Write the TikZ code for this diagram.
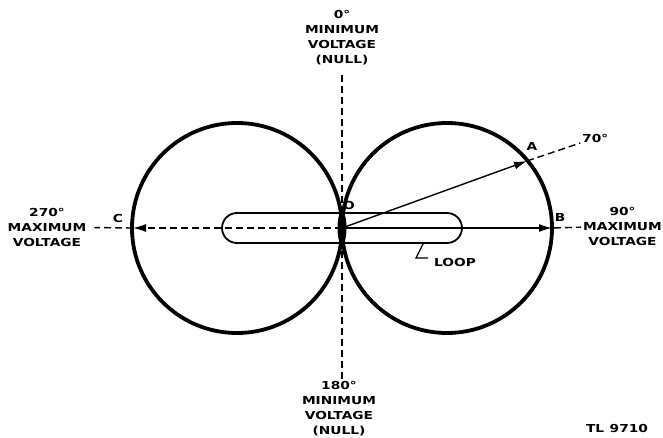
\documentclass[tikz,border=0pt]{standalone}
\usepackage{fontspec}
\newfontfamily\leroy{DejaVu Sans}[FakeStretch=1.25]
\usetikzlibrary{arrows.meta}

\begin{document}
\begin{tikzpicture}[x=1pt,y=-1pt,
    txt/.style={align=center,inner sep=0pt,
      font=\leroy\bfseries\fontsize{11}{15}\selectfont},
    lobe/.style={line width=3.8pt},
    axis/.style={line width=1.4pt,dash pattern=on 7pt off 4pt},
    tip/.style={-{Latex[length=13pt,width=8pt]}},
    vec/.style={line width=1.4pt,tip}]

    \useasboundingbox (0,0) rectangle (663,438);

    % points of the pattern
    \coordinate (o) at (342,228);
    \coordinate (b) at (552,228);
    \coordinate (c) at (133,228);
    \coordinate (a) at (527,161);

    % the two lobes
    \draw[lobe] (447,228) circle[radius=105pt];
    \draw[lobe] (237,228) circle[radius=105pt];
    \fill (o) ellipse[x radius=4.5pt,y radius=17pt];

    % loop
    \draw[line width=1.8pt,rounded corners=15pt] (222,213) rectangle (462,243);

    % labels
    \node[txt] (top) at (342,38) {0°\\MINIMUM\\VOLTAGE\\(NULL)};
    \node[txt] (bot) at (339,409) {180°\\MINIMUM\\VOLTAGE\\(NULL)};
    \node[txt] (left) at (47,227) {270°\\MAXIMUM\\VOLTAGE};
    \node[txt,anchor=east] (right) at (662,226) {90°\\MAXIMUM\\VOLTAGE};
    \node[txt] (lc) at (118,218) {C};
    \node[txt] (lb) at (560,217) {B};
    \node[txt] (la) at (532,146) {A};
    \node[txt,anchor=west] (l70) at (582,138) {70°};
    \node[txt] (lo) at (349,205) {O};
    \node[txt,anchor=west] (lloop) at (434,262) {LOOP};
    \node[txt] (tl) at (617,428) {TL\enspace 9710};

    % axes and vectors
    \draw[axis,shorten <=9pt,shorten >=2pt] (top.south) -- (top.south |- bot.north);
    \draw[axis,tip] (o) -- (c);
    \draw[axis,shorten >=8pt] (c) -- (left);
    \draw[vec] (o) -- (b);
    \draw[axis,shorten <=2pt,shorten >=2pt] (b) -- (right);
    \draw[vec] (o) -- (a);
    \draw[axis,shorten >=2pt] (a) -- (l70);

    % leader of the loop
    \coordinate (k0) at (423,244);
    \coordinate (k1) at (416,258);
    \coordinate (k2) at (428,258);
    \draw[line width=1.3pt] (k0) -- (k1) -- (k2);
  \end{tikzpicture}
\end{document}
